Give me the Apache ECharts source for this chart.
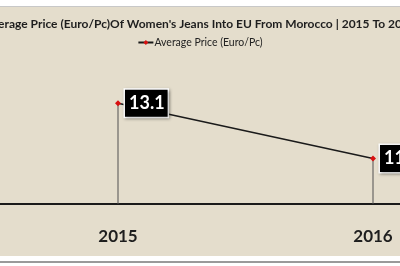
<!DOCTYPE html>
<html>
<head>
<meta charset="utf-8">
<script src="https://cdn.jsdelivr.net/npm/echarts@6/dist/echarts.min.js"></script>
<style>
  html, body { margin: 0; padding: 0; background: #fff; }
  #frame { position: absolute; left: 0; top: 0; width: 400px; height: 266px; overflow: hidden; background: #fff; }
  #topline { position: absolute; left: 0; top: 6px; width: 400px; height: 1px; background: #c8c8c8; }
  #main { position: absolute; left: 0; top: 7px; width: 400px; height: 249px; background: #e4ddcc; }
  #botline { position: absolute; left: 0; top: 261px; width: 400px; height: 2px; background: #9a9a9a; }
</style>
</head>
<body>
<div id="frame">
  <div id="topline"></div>
  <div id="main"></div>
  <div id="botline"></div>
</div>
<script>
// 年份与平均价格（欧元/件）
const years = ['2015', '2016'];
const avgPrice = [13.1, 11.4];
const seriesName = 'Average Price (Euro/Pc)';
const titleText = "Average Price (Euro/Pc)Of Women's Jeans Into EU From Morocco | 2015 To 2016";

const chart = echarts.init(document.getElementById('main'), null, { renderer: 'canvas' });

const option = {
  backgroundColor: 'transparent',
  animation: false,
  textStyle: { fontFamily: 'Lato, "Open Sans", sans-serif' },
  title: {
    text: titleText,
    left: 'center',
    top: 6,
    textStyle: { fontSize: 12, fontWeight: 'bold', color: '#1e1e1e', fontFamily: 'Lato, sans-serif' }
  },
  legend: {
    data: [seriesName],
    left: 'center',
    top: 25,
    itemWidth: 15,
    itemHeight: 6,
    itemGap: 2,
    textStyle: { fontSize: 10.5, color: '#222', fontFamily: 'Lato, sans-serif', padding: [0, 0, 0, -4] }
  },
  grid: {
    left: -9.5,
    right: -100.5,
    top: 67,
    bottom: 52,
    outerBoundsMode: 'none',
    containLabel: false
  },
  xAxis: {
    type: 'category',
    data: years,
    boundaryGap: true,
    axisLine: { lineStyle: { color: '#1a1a1a', width: 2 } },
    axisTick: { show: false },
    axisLabel: { margin: 24, fontSize: 17, fontWeight: 'bold', color: '#1e1e1e', fontFamily: 'Lato, sans-serif' },
    splitLine: { show: false }
  },
  yAxis: {
    type: 'value',
    min: 10,
    max: 14,
    show: false,
    splitLine: { show: false }
  },
  series: [
    {
      // 垂直引线
      name: 'drop',
      type: 'bar',
      data: avgPrice,
      barWidth: 1,
      itemStyle: { color: '#505050' },
      silent: true,
      z: 1
    },
    {
      name: seriesName,
      type: 'line',
      data: avgPrice,
      symbol: 'diamond',
      symbolSize: 6,
      lineStyle: { color: '#1a1a1a', width: 1.5 },
      itemStyle: { color: '#d81010', borderWidth: 0 },
      z: 3,
      label: {
        show: true,
        position: 'right',
        distance: 4,
        formatter: p => p.value.toFixed(1),
        color: '#fff',
        fontSize: 18,
        fontWeight: 'bold',
        fontFamily: 'Lato, sans-serif',
        backgroundColor: '#000',
        borderColor: '#fff',
        borderWidth: 1.5,
        padding: [5, 3, 4, 4],
        shadowColor: 'rgba(0,0,0,0.3)',
        shadowBlur: 3,
        shadowOffsetX: 1,
        shadowOffsetY: 1
      }
    }
  ]
};

chart.setOption(option);
</script>
</body>
</html>
